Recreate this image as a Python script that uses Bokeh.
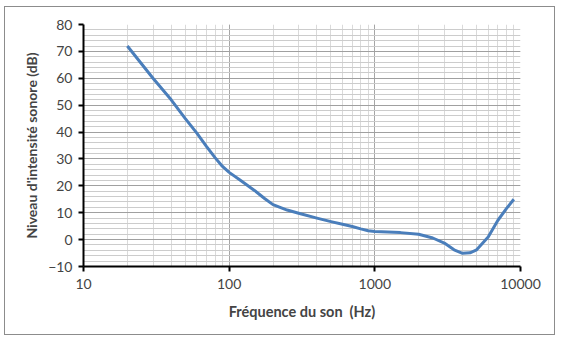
from bokeh.plotting import figure
from bokeh.models import Range1d, LogTicker, SingleIntervalTicker, NumeralTickFormatter, ColumnDataSource
from bokeh.embed import file_html
from bokeh.resources import INLINE

# Data
freq_hz = [20, 30, 40, 50, 60, 70, 80, 90, 100, 120, 150, 175, 200, 250, 300, 400, 500, 600, 700,
           800, 900, 1000, 1500, 2000, 2500, 3000, 3500, 4000, 4500, 5000, 6000, 7000, 8000, 9000]
level_db = [72, 60, 52, 45, 39.6, 34.6, 30.5, 27.2, 25, 22, 18.2, 15.3, 13, 11, 9.8, 8, 6.7, 5.7, 4.9,
            4, 3.3, 3, 2.6, 2, 0.6, -1.3, -3.8, -5.1, -4.9, -3.8, 1, 7.2, 11.5, 15]
x_label = "Fréquence du son \u00a0(Hz)"
y_label = "Niveau d'intensité sonore (dB)"

FONT = "Lato"

p = figure(width=551, height=329, x_axis_type="log",
           x_range=Range1d(10, 10000), y_range=Range1d(-10, 80),
           output_backend="svg", toolbar_location=None,
           min_border_left=78, min_border_top=17, min_border_right=36, min_border_bottom=70,
           margin=(6, 0, 0, 4),
           styles={"border": "1px solid #8c8c8c", "box-sizing": "border-box"})
p.outline_line_color = None
p.background_fill_color = "white"
p.border_fill_color = "white"

src = ColumnDataSource(dict(f=freq_hz, v=level_db))
p.line("f", "v", source=src, line_color="#4A7EBB", line_width=3, line_join="round")

# x axis
p.xaxis.ticker = LogTicker(num_minor_ticks=10, desired_num_ticks=4)
p.xaxis.formatter = NumeralTickFormatter(format="0")
p.xaxis.axis_label = x_label
p.xaxis.axis_label_text_font = FONT
p.xaxis.axis_label_text_font_style = "bold"
p.xaxis.axis_label_text_font_size = "14.5px"
p.xaxis.axis_label_standoff = 11
p.xaxis.major_label_text_font = FONT
p.xaxis.major_label_text_font_size = "14px"
p.xaxis.major_label_standoff = 7
p.xaxis.axis_line_color = "black"
p.xaxis.axis_line_width = 2
p.xaxis.major_tick_line_color = "black"
p.xaxis.major_tick_line_width = 2
p.xaxis.major_tick_out = 5
p.xaxis.major_tick_in = 0
p.xaxis.minor_tick_line_color = None

# y axis
p.yaxis.ticker = SingleIntervalTicker(interval=10, num_minor_ticks=5)
p.yaxis.axis_label = y_label
p.yaxis.axis_label_text_font = FONT
p.yaxis.axis_label_text_font_style = "bold"
p.yaxis.axis_label_text_font_size = "14px"
p.yaxis.axis_label_standoff = 5
p.yaxis.major_label_text_font = FONT
p.yaxis.major_label_text_font_size = "14px"
p.yaxis.major_label_standoff = 6
p.yaxis.axis_line_color = "black"
p.yaxis.axis_line_width = 2
p.yaxis.major_tick_line_color = "black"
p.yaxis.major_tick_line_width = 2
p.yaxis.major_tick_out = 5
p.yaxis.major_tick_in = 0
p.yaxis.minor_tick_line_color = None

# grids
p.xgrid.grid_line_color = "#a6a6a6"
p.xgrid.minor_grid_line_color = "#dadada"
p.ygrid.grid_line_color = "#a0a0a0"
p.ygrid.minor_grid_line_color = "#cccccc"
p.xgrid.grid_line_width = 1
p.ygrid.grid_line_width = 1

open("out.html", "w").write(file_html(p, INLINE))
